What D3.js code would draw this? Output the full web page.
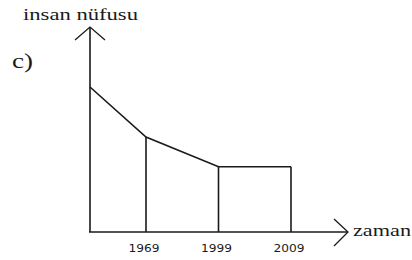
<!DOCTYPE html>
<html>
<head>
<meta charset="utf-8">
<script src="https://cdn.jsdelivr.net/npm/d3@7/dist/d3.min.js"></script>
<style>
  html, body { margin: 0; padding: 0; background: #fff; }
  svg { display: block; }
  .serif { font-family: 'Liberation Serif', 'Times New Roman', serif; }
  .sans { font-family: 'DejaVu Sans', Verdana, sans-serif; }
</style>
</head>
<body>
<svg id="chart" width="412" height="260"></svg>
<script>
// Data
const years = ["1969", "1999", "2009"];
const startPopulation = 100;          // value at the y-axis (start of time)
const population = [65.5, 45, 45];    // values at each year
const yLabel = "insan nüfusu";
const xLabel = "zaman";
const panelLabel = "c)";

const svg = d3.select("#chart");
const ink = "#1a1a1a";
const originX = 90, originY = 232;

const x = d3.scalePoint().domain(years).range([146, 291]);
const y = d3.scaleLinear().domain([0, 100]).range([originY, 87]);

// Axes
svg.append("line").attr("x1", originX).attr("y1", originY).attr("x2", originX).attr("y2", 27)
  .attr("stroke", ink).attr("stroke-width", 1.6);
svg.append("path").attr("d", `M${originX - 15},${40} L${originX},${27} L${originX + 15},${40}`)
  .attr("fill", "none").attr("stroke", ink).attr("stroke-width", 1.3);

svg.append("line").attr("x1", originX - 1).attr("y1", originY).attr("x2", 348).attr("y2", originY)
  .attr("stroke", ink).attr("stroke-width", 1.6);
svg.append("path").attr("d", `M334,219 L348,${originY} L334,246`)
  .attr("fill", "none").attr("stroke", ink).attr("stroke-width", 1.3);

// Polyline of population
const pts = [[originX, y(startPopulation)]].concat(years.map((yr, i) => [x(yr), y(population[i])]));
svg.append("path").attr("d", d3.line()(pts))
  .attr("fill", "none").attr("stroke", ink).attr("stroke-width", 1.6);

// Vertical drops
svg.selectAll("line.drop").data(years).join("line").attr("class", "drop")
  .attr("x1", d => x(d)).attr("x2", d => x(d))
  .attr("y1", (d, i) => y(population[i])).attr("y2", originY)
  .attr("stroke", ink).attr("stroke-width", 1.6);

// Tick labels
svg.selectAll("text.tick").data(years).join("text").attr("class", "tick sans")
  .attr("x", d => x(d) - 2).attr("y", 252)
  .attr("text-anchor", "middle")
  .attr("font-size", 11)
  .attr("fill", ink)
  .attr("textLength", 31).attr("lengthAdjust", "spacingAndGlyphs")
  .text(d => d);

// Labels
svg.append("text").attr("class", "serif").attr("x", 23).attr("y", 20)
  .attr("font-size", 17).attr("fill", ink)
  .attr("textLength", 115).attr("lengthAdjust", "spacingAndGlyphs")
  .text(yLabel);
svg.append("text").attr("class", "serif").attr("x", 353).attr("y", 236)
  .attr("font-size", 17).attr("fill", ink)
  .attr("textLength", 58).attr("lengthAdjust", "spacingAndGlyphs")
  .text(xLabel);
svg.append("text").attr("class", "serif").attr("x", 12).attr("y", 68)
  .attr("font-size", 20).attr("fill", ink)
  .attr("textLength", 21).attr("lengthAdjust", "spacingAndGlyphs")
  .text(panelLabel);
</script>
</body>
</html>
